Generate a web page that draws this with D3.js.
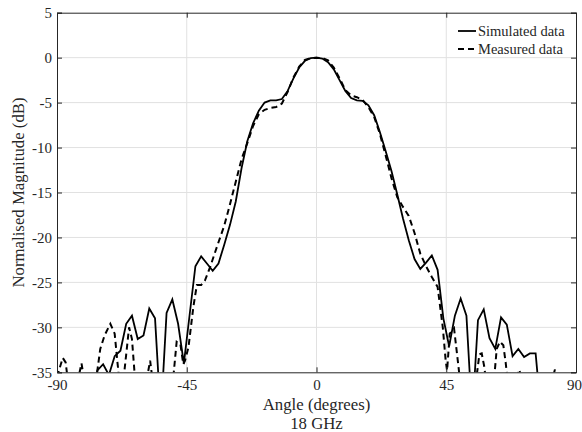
<!DOCTYPE html>
<html>
<head>
<meta charset="utf-8">
<script src="https://cdn.jsdelivr.net/npm/d3@7"></script>
<style>
  body { margin: 0; background: #fff; }
  svg { display: block; }
  text { font-family: "Liberation Serif", "Times New Roman", serif; fill: #262626; }
</style>
</head>
<body>
<div id="chart"></div>
<script>
// simulated pattern, 2 degree steps
const simAngle = [-90,-88,-86,-84,-82,-80,-78,-76,-74,-72,-70,-68,-66,-64,-62,-60,-58,-56,-54,-52,
  -50,-48,-46,-44,-42,-40,-38,-36,-34,-32,-30,-28,-26,-24,-22,-20,-18,-16,-14,-12,
  -10,-8,-6,-4,-2,0,2,4,6,8,10,12,14,16,18,20,22,24,26,28,
  30,32,34,36,38,40,42,44,46,48,50,52,54,56,58,60,62,64,66,68,
  70,72,74,76,78,80,82,84,86,88,90];
const simDb = [-40,-40,-40,-40,-40,-40,-40,-34.8,-34.1,-35.3,-33.2,-32.6,-29.6,-28.7,-31.3,-30.9,-27.9,-29.0,-40,-28.4,
  -26.9,-29.6,-34.0,-28.6,-23.2,-22.1,-22.9,-23.7,-22.9,-20.8,-18.6,-16.0,-12.3,-9.3,-7.3,-5.9,-5.0,-4.75,-4.75,-4.6,
  -3.7,-2.3,-1.1,-0.35,-0.05,0,-0.1,-0.5,-1.3,-2.5,-3.7,-4.5,-4.75,-4.8,-5.3,-6.4,-8.3,-10.4,-12.6,-15.2,
  -17.9,-20.3,-22.4,-23.5,-22.8,-22.0,-23.6,-29.0,-32.1,-28.7,-26.8,-28.7,-40,-29.2,-28.0,-31.2,-32.4,-28.9,-29.7,-33.2,
  -32.4,-33.3,-32.9,-32.9,-40,-40,-40,-40,-40,-40,-40];

// measured pattern
const measAngle = [-90,-88,-87,-86,-84,-82.5,-81.5,-80.5,-78,-76.5,-75,-73.5,-71.5,-70,-69,-68,-67,-65,-64,-63,
  -61,-59,-57.7,-57,-55,-51,-49.5,-48.5,-47.2,-46.2,-45.6,-44.4,-42.7,-41.5,-40,-38.7,-36.9,-34.6,-32,-30,
  -28,-26,-24,-22,-20,-18,-16,-14,-12,-10,-8,-6,-4,-2,0,2,4,6,8,10,
  12,14,16,18,20,22,24,26,28,30,32,34,36,38,40,42,43.8,44.8,45.3,46.2,
  47.7,49,50,52,54,55.3,56.5,57.3,58.2,59,61,62.5,63.6,64.8,65.6,66.3,68,69.5,70.3,71,
  73,80,82,82.7,83.5,86,90];
const measDb = [-35.5,-33.4,-33.9,-36.5,-38,-35.5,-34.0,-36,-40,-36,-32.4,-30.9,-29.6,-30.7,-34,-37,-36,-30.0,-31.3,-35.5,
  -40,-36,-33.7,-35.5,-40,-40,-35,-31.6,-31.9,-34.1,-33.7,-32.2,-27.7,-25.3,-25.3,-24.8,-23.3,-21.1,-18.7,-16.3,
  -13.8,-11.3,-9.5,-7.6,-6.3,-5.8,-5.6,-5.5,-5.1,-3.8,-2.2,-1.0,-0.25,-0.05,0,-0.05,-0.3,-1.1,-2.3,-3.6,
  -4.2,-4.4,-4.7,-5.5,-6.6,-8.5,-10.9,-13.4,-15.5,-16.6,-17.6,-19.5,-21.8,-23.2,-24.4,-25.5,-30.0,-33.7,-34.8,-30.7,
  -30.1,-33.7,-36.5,-40,-40,-36,-33.0,-32.9,-34.4,-36.5,-38,-32.4,-31.6,-32.0,-33.9,-36,-38,-35.5,-34.7,-35.5,
  -40,-40,-35.5,-34.7,-36,-40,-40];

const xTicks = [-90, -45, 0, 45, 90];
const yTicks = [5, 0, -5, -10, -15, -20, -25, -30, -35];
const legendNames = ['Simulated data', 'Measured data'];

const width = 582, height = 432;
const marginLeft = 57, marginRight = 6, marginTop = 12.7, marginBottom = 59.7;
const w = width - marginLeft - marginRight;
const h = height - marginTop - marginBottom;

const svg = d3.select('#chart').append('svg')
  .attr('width', width)
  .attr('height', height);

const g = svg.append('g')
  .attr('transform', `translate(${marginLeft},${marginTop})`);

const x = d3.scaleLinear().domain([-90, 90]).range([0, w]);
const y = d3.scaleLinear().domain([-35, 5]).range([h, 0]);

// grid
g.append('g').selectAll('line')
  .data(xTicks.slice(1, -1))
  .enter().append('line')
  .attr('x1', d => x(d)).attr('x2', d => x(d))
  .attr('y1', 0).attr('y2', h)
  .attr('stroke', '#e1e1e1');
g.append('g').selectAll('line')
  .data(yTicks.slice(1, -1))
  .enter().append('line')
  .attr('x1', 0).attr('x2', w)
  .attr('y1', d => y(d)).attr('y2', d => y(d))
  .attr('stroke', '#e1e1e1');

svg.append('clipPath').attr('id', 'clip')
  .append('rect').attr('width', w).attr('height', h);

const simLine = d3.line()
  .x((d, i) => x(simAngle[i]))
  .y(d => y(d));
const measLine = d3.line()
  .x((d, i) => x(measAngle[i]))
  .y(d => y(d));

const lines = g.append('g').attr('clip-path', 'url(#clip)');
lines.append('path')
  .datum(simDb)
  .attr('fill', 'none')
  .attr('stroke', '#000')
  .attr('stroke-width', 1.8)
  .attr('d', simLine);
lines.append('path')
  .datum(measDb)
  .attr('fill', 'none')
  .attr('stroke', '#000')
  .attr('stroke-width', 2)
  .attr('stroke-dasharray', '6,4')
  .attr('d', measLine);

// axes, ticks pointing inward on all four sides
const fmt = d => String(d);
g.append('g')
  .attr('transform', `translate(0,${h})`)
  .call(d3.axisBottom(x).tickValues(xTicks).tickSize(-5).tickPadding(7).tickFormat(fmt))
  .call(a => a.selectAll('text').attr('font-size', '15px').attr('dy', '0.72em'))
  // last label sits at the window edge, keep it inside
  .call(a => a.selectAll('.tick').filter(d => d === 90).select('text')
    .attr('text-anchor', 'end').attr('x', 5.5));
g.append('g')
  .call(d3.axisLeft(y).tickValues(yTicks).tickSize(-5).tickPadding(5).tickFormat(fmt))
  .call(a => a.selectAll('text').attr('font-size', '15px'));
g.append('g')
  .call(d3.axisTop(x).tickValues(xTicks).tickSize(-5).tickFormat(''));
g.append('g')
  .attr('transform', `translate(${w},0)`)
  .call(d3.axisRight(y).tickValues(yTicks).tickSize(-5).tickFormat(''));
g.selectAll('.domain').attr('stroke', '#262626');
g.selectAll('.tick line').attr('stroke', '#262626');
g.selectAll('.tick text').attr('fill', '#262626').attr('font-family', '"Liberation Serif", serif');

// axis labels
g.append('text')
  .attr('x', w / 2)
  .attr('y', h + 38)
  .attr('text-anchor', 'middle')
  .attr('font-size', '16.8px')
  .text('Angle (degrees)');
g.append('text')
  .attr('x', w / 2)
  .attr('y', h + 57)
  .attr('text-anchor', 'middle')
  .attr('font-size', '16.8px')
  .text('18 GHz');
svg.append('text')
  .attr('transform', `translate(24,${marginTop + h / 2}) rotate(-90)`)
  .attr('text-anchor', 'middle')
  .attr('font-size', '16.8px')
  .text('Normalised Magnitude (dB)');

// legend
const legend = svg.append('g').attr('transform', 'translate(458,31)');
legendNames.forEach((name, i) => {
  legend.append('line')
    .attr('x1', 0).attr('x2', 18)
    .attr('y1', i * 18).attr('y2', i * 18)
    .attr('stroke', '#000')
    .attr('stroke-width', i === 0 ? 1.8 : 2)
    .attr('stroke-dasharray', i === 0 ? null : '6,4');
  legend.append('text')
    .attr('x', 20)
    .attr('y', i * 18)
    .attr('dy', '0.32em')
    .attr('font-size', '14.5px')
    .text(name);
});
</script>
</body>
</html>
